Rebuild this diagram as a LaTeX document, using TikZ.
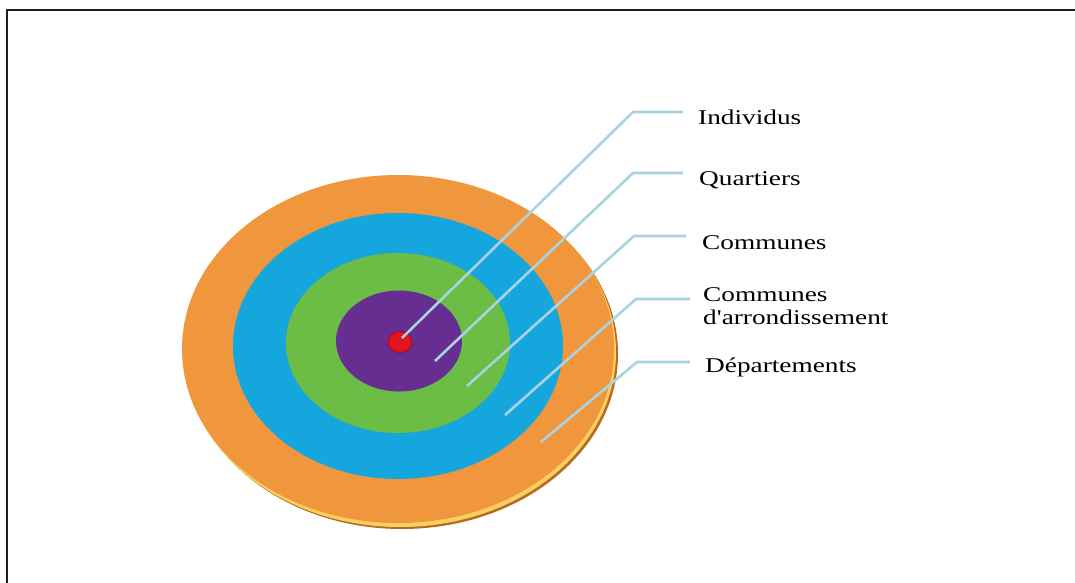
\documentclass[tikz,border=0pt]{standalone}
\usepackage{fontspec}
\setmainfont{Liberation Serif}
\usetikzlibrary{shapes.geometric}
\definecolor{cOrange}{HTML}{F0963C}
\definecolor{cRimDark}{HTML}{B86A20}
\definecolor{cRimYellow}{HTML}{F8D060}
\definecolor{cBlue}{HTML}{16A6DE}
\definecolor{cGreen}{HTML}{6BBD45}
\definecolor{cPurple}{HTML}{662E91}
\definecolor{cRed}{HTML}{E0141E}
\definecolor{cLead}{HTML}{A9D2E2}
\definecolor{cFrame}{HTML}{1E1E1E}
\begin{document}
\begin{tikzpicture}[x=1pt,y=-1pt,
  ring/.style={ellipse, inner sep=0pt, draw=none},
  lead/.style={draw=cLead, line width=2.6pt},
  lbl/.style={anchor=west, inner sep=0pt, align=left,
    font=\fontsize{21}{23}\selectfont}]
\useasboundingbox (0,0) rectangle (1075,582);
\fill[white] (0,0) rectangle (1075,582);
\draw[cFrame, line width=2.5pt] (7,586) -- (7,10) -- (1079,10);
% disc thickness
\fill[cRimDark] (402,354) ellipse [x radius=216, y radius=175];
\fill[cRimYellow] (400,352) ellipse [x radius=216, y radius=175];
\node[ring, fill=cOrange, minimum width=432pt, minimum height=348pt] (dep) at (398,349) {};
\node[ring, fill=cBlue, minimum width=330pt, minimum height=266pt] (arr) at (398,346) {};
\node[ring, fill=cGreen, minimum width=224pt, minimum height=180pt] (com) at (398,343) {};
\node[ring, fill=cPurple, minimum width=126pt, minimum height=101pt] (qua) at (399,341) {};
\node[ring, fill=cRed, draw=red!70!black, line width=0.6pt, minimum width=24pt, minimum height=21pt] (ind) at (400,342) {};
% leader end points
\coordinate (p1) at (402,338);
\coordinate (p2) at (435,361);
\coordinate (p3) at (467,386);
\coordinate (p4) at (505,415);
\coordinate (p5) at (541,442);
\coordinate (k1) at (633,112);
\coordinate (k2) at (633,173);
\coordinate (k3) at (634,236);
\coordinate (k4) at (636,299);
\coordinate (k5) at (637,362);
% labels
\node[lbl] (t1) at (698,117) {\scalebox{1.3}[1]{Individus}};
\node[lbl] (t2) at (699,180) {\scalebox{1.3}[1]{Quartiers}};
\node[lbl] (t3) at (702,243) {\scalebox{1.3}[1]{Communes}};
\node[lbl] (t4) at (703,306) {\scalebox{1.3}[1]{Communes}\\\scalebox{1.3}[1]{d\textquotesingle arrondissement}};
\node[lbl] (t5) at (705,367) {\scalebox{1.3}[1]{Départements}};
% leaders
\draw[lead] (p1) -- (k1) -- ([xshift=-15pt]t1.west |- k1);
\draw[lead] (p2) -- (k2) -- ([xshift=-16pt]t2.west |- k2);
\draw[lead] (p3) -- (k3) -- ([xshift=-16pt]t3.west |- k3);
\draw[lead] (p4) -- (k4) -- ([xshift=-13pt]t4.west |- k4);
\draw[lead] (p5) -- (k5) -- ([xshift=-15pt]t5.west |- k5);
\end{tikzpicture}
\end{document}
